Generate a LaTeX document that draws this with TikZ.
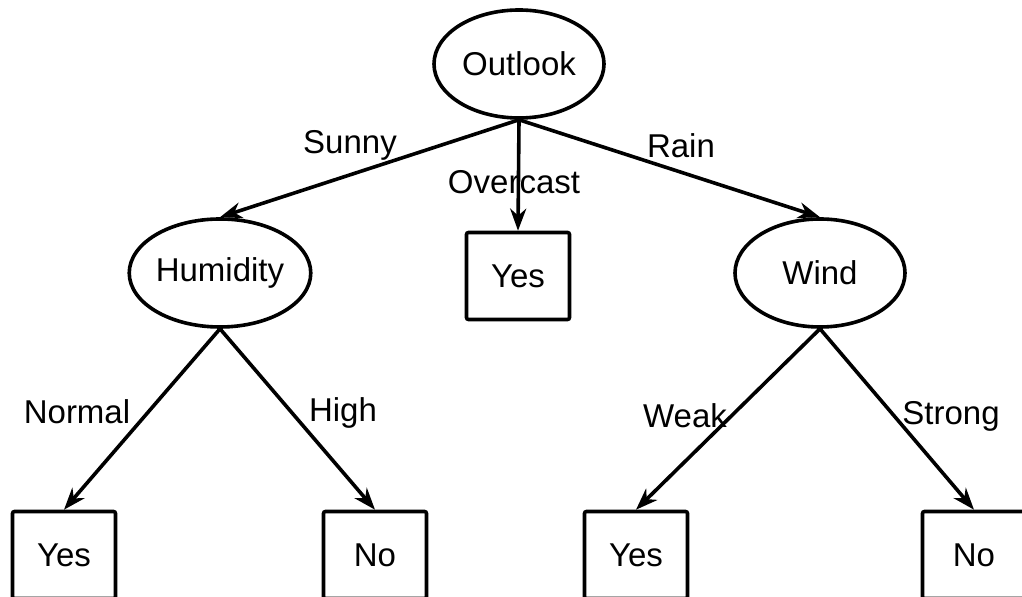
\documentclass[tikz,border=0pt]{standalone}
\usepackage{fontspec}
\setmainfont{Liberation Sans}
\usetikzlibrary{arrows.meta,shapes.geometric}

\begin{document}
\begin{tikzpicture}[x=0.5pt,y=-0.5pt,
  every node/.style={font=\fontsize{16.5}{20}\selectfont},
  attr/.style={draw, ellipse, line width=1.8pt, minimum width=85pt, minimum height=54pt, inner sep=0pt},
  leaf/.style={draw, rectangle, rounded corners=1pt, line width=1.8pt, minimum width=51.5pt, minimum height=43.5pt, inner sep=0pt},
  branch/.style={line width=1.8pt, -{Stealth[length=11pt,width=8pt,inset=3.5pt]}},
  lbl/.style={inner sep=1pt}]
\useasboundingbox (0,0) rectangle (1022,597);
% tree nodes (pixel coordinates, y down)
\node[attr] (outlook) at (519,64) {Outlook};
\node[attr] (humidity) at (220,273) {Humidity};
\node[leaf] (overyes) at (518,276) {Yes};
\node[attr] (wind) at (820,273) {Wind};
\node[leaf] (normyes) at (64,555) {Yes};
\node[leaf] (highno) at (375,555) {No};
\node[leaf] (weakyes) at (636,555) {Yes};
\node[leaf] (strongno) at (974,555) {No};
% branches
\draw[branch] (outlook.south) -- (humidity.north);
\draw[branch] (outlook.south) -- (overyes.north);
\draw[branch] (outlook.south) -- (wind.north);
\draw[branch] (humidity.south) -- (normyes.north);
\draw[branch] (humidity.south) -- (highno.north);
\draw[branch] (wind.south) -- (weakyes.north);
\draw[branch] (wind.south) -- (strongno.north);
% branch labels
\node[lbl] (sunny) at (350,145) {Sunny};
\node[lbl] (overcast) at (514,182) {Overcast};
\node[lbl] (rain) at (681,146) {Rain};
\node[lbl] (normal) at (77,412) {Normal};
\node[lbl] (high) at (343,413) {High};
\node[lbl] (weak) at (685,416) {Weak};
\node[lbl] (strong) at (951,416) {Strong};
\end{tikzpicture}
\end{document}
